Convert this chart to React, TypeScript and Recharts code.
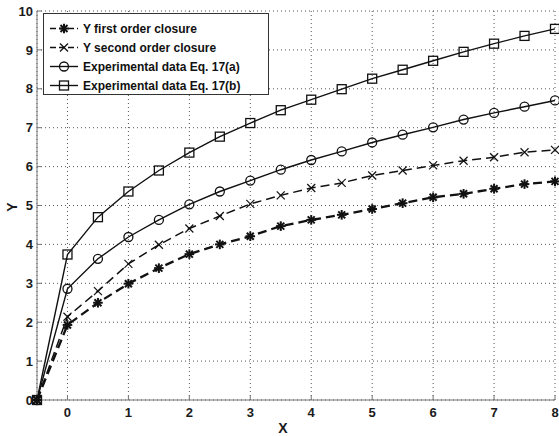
import React from "react";
import { LineChart, Line, XAxis, YAxis, CartesianGrid, Legend } from "recharts";

const xValues = [-0.5, 0, 0.5, 1, 1.5, 2, 2.5, 3, 3.5, 4, 4.5, 5, 5.5, 6, 6.5, 7, 7.5, 8];

const firstOrder = [0, 1.93, 2.5, 2.99, 3.39, 3.75, 4.0, 4.21, 4.47, 4.63, 4.76, 4.91, 5.06, 5.21, 5.3, 5.43, 5.55, 5.62];
const secondOrder = [0, 2.14, 2.8, 3.5, 3.99, 4.41, 4.73, 5.04, 5.26, 5.45, 5.58, 5.77, 5.9, 6.03, 6.15, 6.24, 6.37, 6.43];
const expA = [0, 2.86, 3.63, 4.19, 4.63, 5.03, 5.36, 5.64, 5.92, 6.17, 6.39, 6.62, 6.82, 7.01, 7.21, 7.38, 7.54, 7.7];
const expB = [0, 3.74, 4.7, 5.36, 5.9, 6.36, 6.77, 7.12, 7.45, 7.72, 7.99, 8.26, 8.49, 8.72, 8.95, 9.16, 9.36, 9.54];

const xTicks = [0, 1, 2, 3, 4, 5, 6, 7, 8];
const yTicks = [0, 1, 2, 3, 4, 5, 6, 7, 8, 9, 10];

const data = xValues.map((x, i) => ({
  x,
  first: firstOrder[i],
  second: secondOrder[i],
  expA: expA[i],
  expB: expB[i],
}));

const INK = "#111";
const AXIS = "#777";
const FONT = "'Liberation Sans', Arial, sans-serif";

type MarkerKind = "star" | "cross" | "circle" | "square";

function Marker({ kind, cx, cy }: { kind: MarkerKind; cx: number; cy: number }) {
  if (kind === "star") {
    const s = 4.8;
    const d = 3.5;
    return (
      <g stroke={INK} strokeWidth={2}>
        <line x1={cx - s} y1={cy} x2={cx + s} y2={cy} />
        <line x1={cx} y1={cy - s} x2={cx} y2={cy + s} />
        <line x1={cx - d} y1={cy - d} x2={cx + d} y2={cy + d} />
        <line x1={cx - d} y1={cy + d} x2={cx + d} y2={cy - d} />
      </g>
    );
  }
  if (kind === "cross") {
    const s = 4;
    return (
      <g stroke={INK} strokeWidth={1.2}>
        <line x1={cx - s} y1={cy - s} x2={cx + s} y2={cy + s} />
        <line x1={cx - s} y1={cy + s} x2={cx + s} y2={cy - s} />
      </g>
    );
  }
  if (kind === "circle") {
    return <circle cx={cx} cy={cy} r={4.5} fill="none" stroke={INK} strokeWidth={1.3} />;
  }
  return <rect x={cx - 4.5} y={cy - 4.5} width={9} height={9} fill="none" stroke={INK} strokeWidth={1.3} />;
}

const series = [
  { key: "first", name: "Y first order closure", marker: "star" as MarkerKind, dash: "9 5", width: 2.3 },
  { key: "second", name: "Y second order closure", marker: "cross" as MarkerKind, dash: "9 5", width: 1.5 },
  { key: "expA", name: "Experimental data Eq. 17(a)", marker: "circle" as MarkerKind, dash: undefined, width: 1.4 },
  { key: "expB", name: "Experimental data Eq. 17(b)", marker: "square" as MarkerKind, dash: undefined, width: 1.4 },
];

function LegendBox() {
  return (
    <div
      style={{
        width: 226,
        height: 82,
        boxSizing: "border-box",
        border: "1px solid #333",
        background: "#fff",
        paddingTop: 5,
      }}
    >
      {series.map((s) => (
        <div key={s.key} style={{ height: 19, display: "flex", alignItems: "center" }}>
          <svg width={38} height={19} style={{ display: "block" }}>
            <line x1={6} y1={9.5} x2={34} y2={9.5} stroke={INK} strokeWidth={1.4} strokeDasharray={s.dash ? "6 3" : undefined} />
            <Marker kind={s.marker} cx={20} cy={9.5} />
          </svg>
          <span style={{ fontFamily: FONT, fontWeight: "bold", fontSize: 12, color: INK, marginLeft: 1, whiteSpace: "nowrap" }}>
            {s.name}
          </span>
        </div>
      ))}
    </div>
  );
}

const tickStyle = { fontFamily: FONT, fontWeight: "bold" as const, fontSize: 13, fill: "#1a1a1a" };
const titleStyle = { fontFamily: FONT, fontWeight: "bold" as const, fontSize: 14, fill: "#1a1a1a" };

export default function App() {
  return (
    <div style={{ position: "absolute", left: 0, top: 0, width: 559, height: 436, background: "#fff" }}>
      <LineChart width={559} height={436} data={data} margin={{ top: 11, right: 4, bottom: 0, left: 0 }}>
        <CartesianGrid stroke="#555" strokeDasharray="1 3" strokeWidth={1} />
        <XAxis
          dataKey="x"
          type="number"
          domain={[-0.5, 8]}
          ticks={xTicks}
          interval={0}
          height={36}
          tickSize={-5}
          tickMargin={13}
          tick={tickStyle}
          stroke={AXIS}
          label={{
            content: (p: any) => (
              <text x={p.viewBox.x + 246} y={p.viewBox.y + 33} textAnchor="middle" style={titleStyle}>
                X
              </text>
            ),
          }}
        />
        <XAxis
          xAxisId="top"
          orientation="top"
          dataKey="x"
          type="number"
          domain={[-0.5, 8]}
          ticks={xTicks}
          interval={0}
          height={0}
          tickSize={-5}
          tick={false}
          stroke={AXIS}
        />
        <YAxis
          type="number"
          domain={[0, 10]}
          ticks={yTicks}
          interval={0}
          width={37}
          tickSize={-5}
          tickMargin={9}
          tick={tickStyle}
          stroke={AXIS}
          label={{
            content: (p: any) => (
              <text x={17} y={207} textAnchor="middle" transform="rotate(-90 17 207)" style={titleStyle}>
                Y
              </text>
            ),
          }}
        />
        <YAxis
          yAxisId="right"
          orientation="right"
          type="number"
          domain={[0, 10]}
          ticks={yTicks}
          interval={0}
          width={0}
          tickSize={-5}
          tick={false}
          stroke={AXIS}
        />
        <Legend
          content={() => <LegendBox />}
          layout="vertical"
          verticalAlign="middle"
          align="center"
          wrapperStyle={{ left: 43, top: 13, width: 226, height: 82 }}
        />
        {series.map((s) => (
          <Line
            key={s.key}
            dataKey={s.key}
            name={s.name}
            type="linear"
            stroke={INK}
            strokeWidth={s.width}
            strokeDasharray={s.dash}
            isAnimationActive={false}
            dot={(p: any) => <Marker key={`${s.key}-${p.index}`} kind={s.marker} cx={p.cx} cy={p.cy} />}
            activeDot={false}
          />
        ))}
      </LineChart>
    </div>
  );
}
